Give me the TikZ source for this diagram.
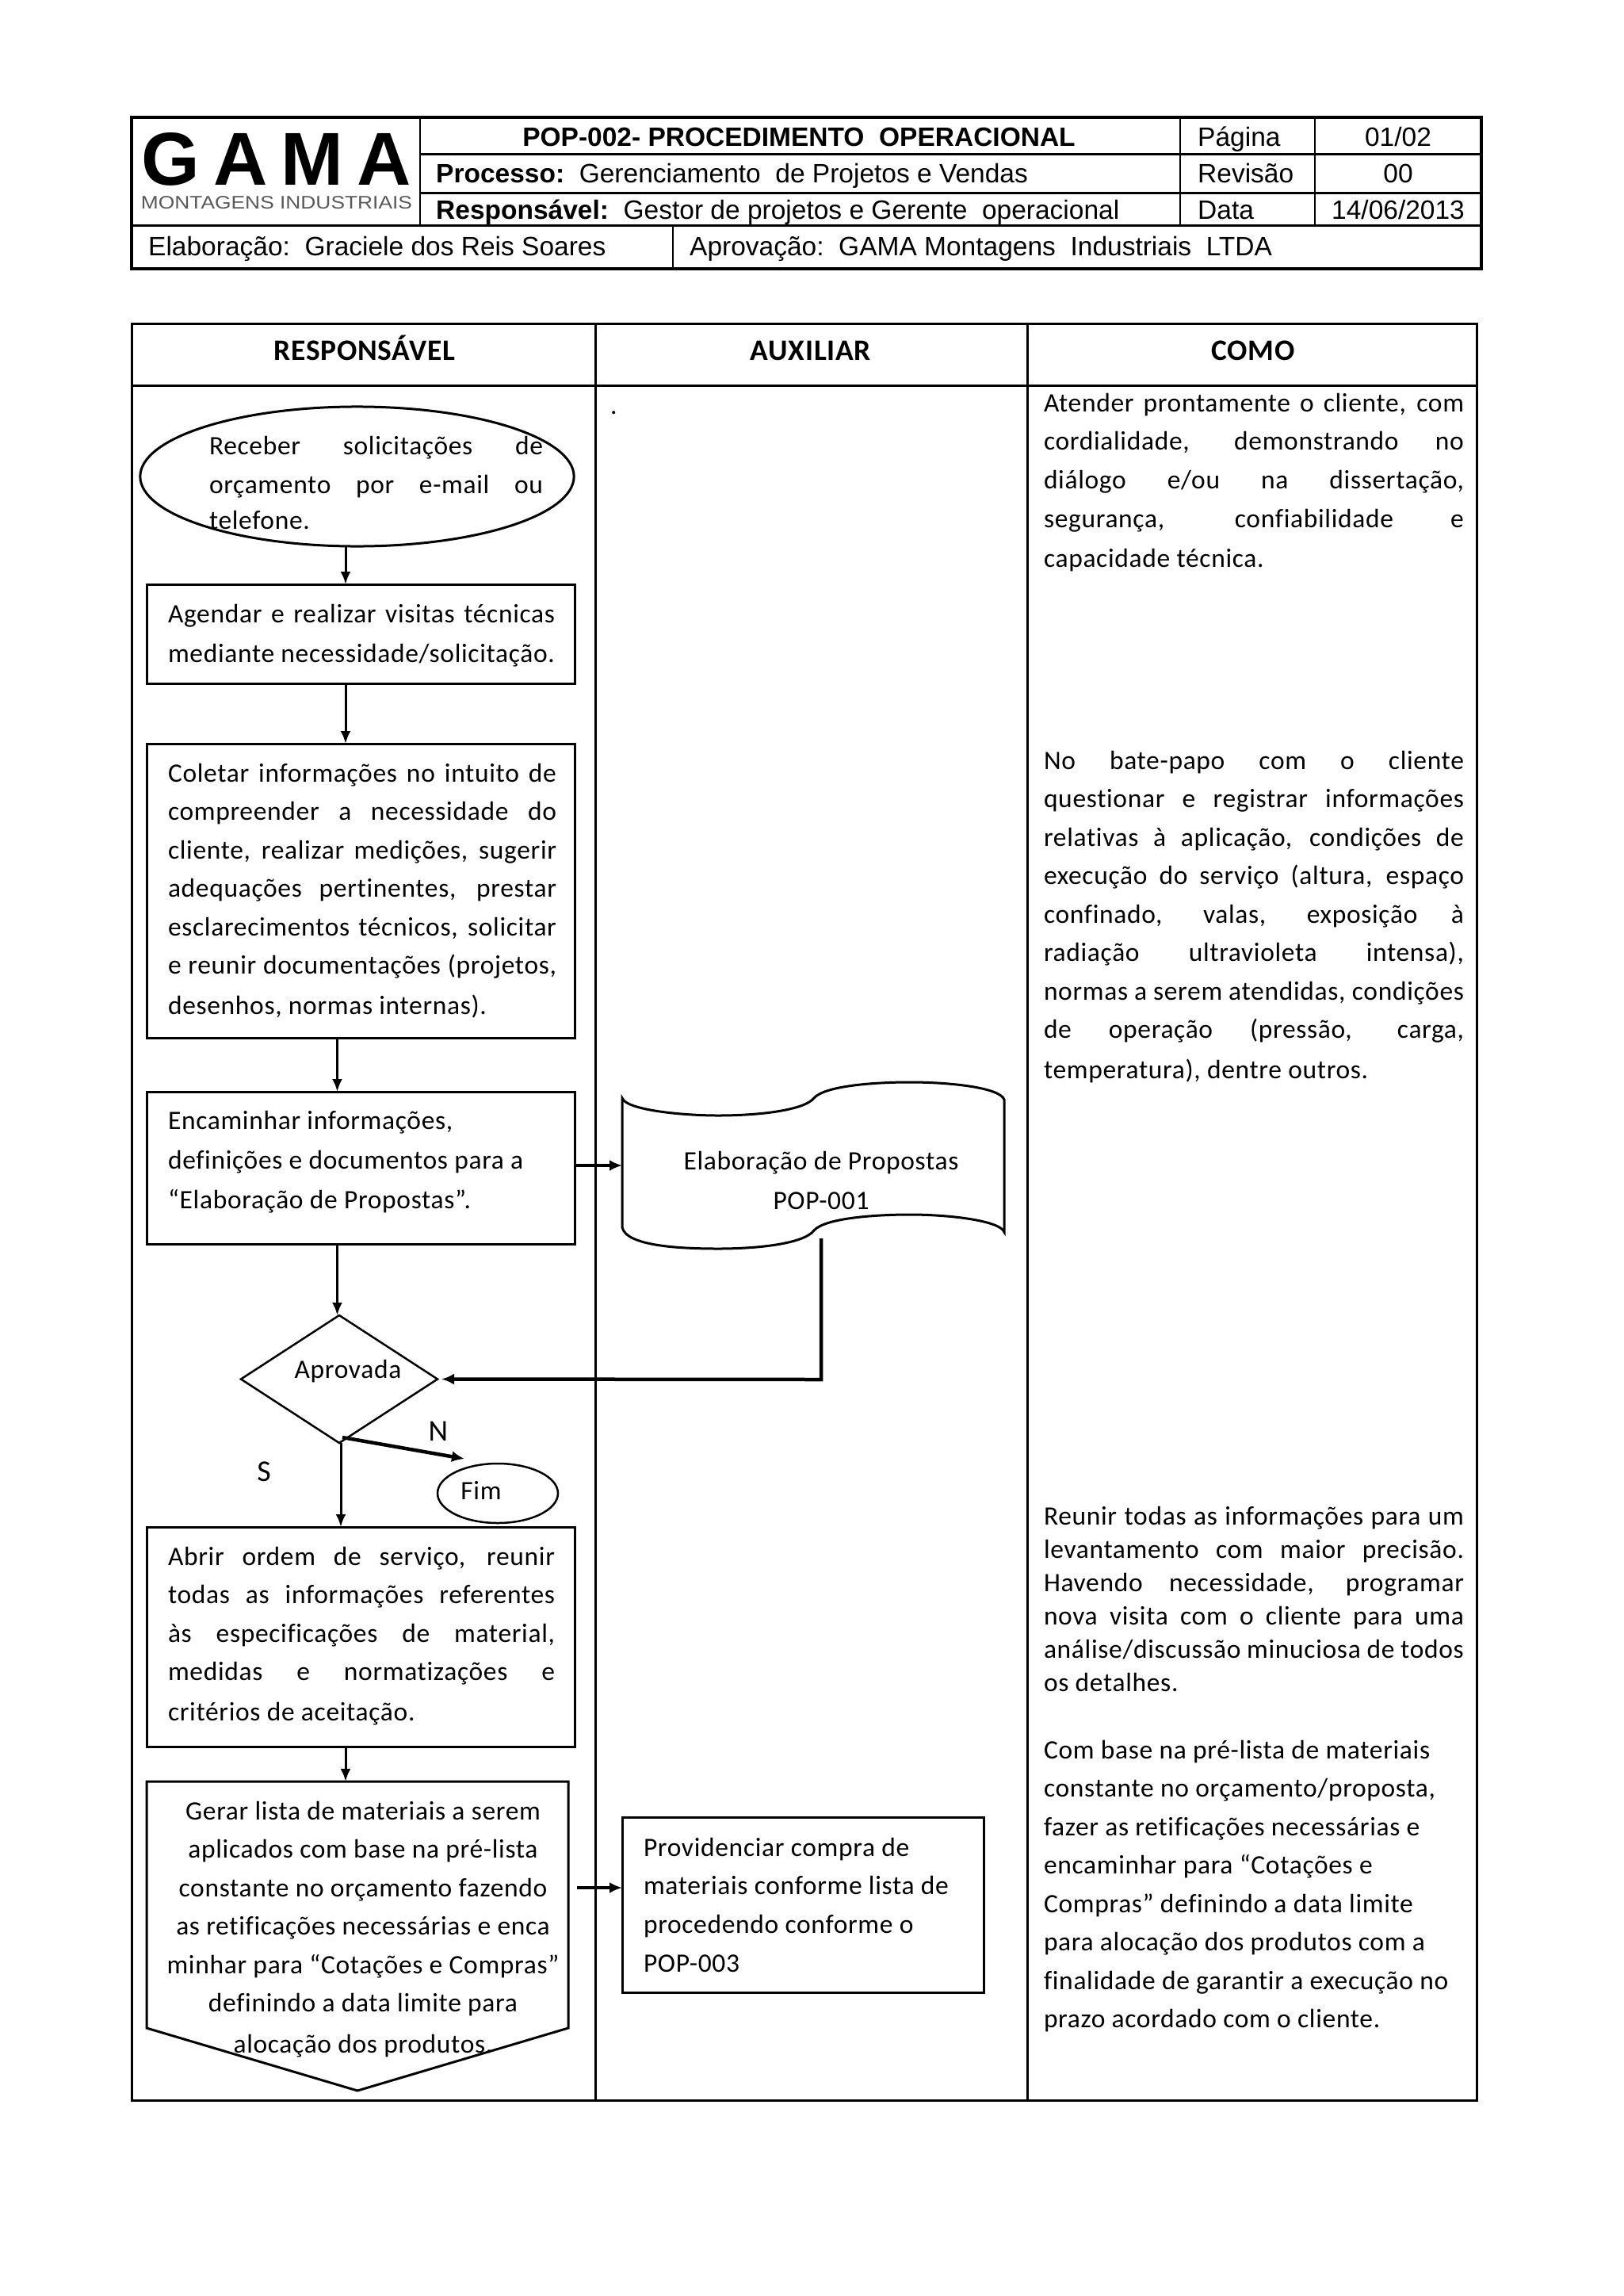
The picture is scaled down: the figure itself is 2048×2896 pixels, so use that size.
\documentclass[tikz,border=0pt]{standalone}
\usepackage{fontspec}
\usepackage{graphicx}
\usetikzlibrary{shapes.geometric,arrows.meta,calc}
\setmainfont[LetterSpace=2,Ligatures=NoCommon]{Carlito}
\newfontfamily\arialf{Liberation Sans}
\newfontfamily\logofont[LetterSpace=18]{Liberation Sans}
\newdimen\lnw \newdimen\lnm
\newcommand\jsl[1]{\moveright\lnm\hbox to\lnw{\spaceskip=.18em plus 1fil\relax #1}}
\newcommand\txl[1]{\moveright\lnm\hbox{#1}}
\newcommand\ctl[1]{\moveright\lnm\hbox to\lnw{\hss #1\hss}}
% width, height, left margin, line width, first baseline, line skip, lines
\newcommand\bx[7]{\hbox to #1pt{\vbox to #2pt{\hsize=#1pt\lnm=#3pt\lnw=#4pt\baselineskip=#6pt\lineskiplimit=-200pt\parindent=0pt
 \vskip\dimexpr#5pt-#6pt\relax\prevdepth=0pt #7\vss}\hss}}
\tikzset{
 frame/.style={line width=3pt,draw=black},
 thin frame/.style={line width=2pt,draw=black},
 flowbox/.style={draw=black,line width=3pt,rectangle,inner sep=0pt,outer sep=0pt,anchor=north west,font=\fontsize{33.5}{40}\selectfont},
 plain/.style={inner sep=0pt,outer sep=0pt,anchor=north west,font=\fontsize{33.5}{40}\selectfont},
 head/.style={font=\arialf\fontsize{33.5}{44}\selectfont,inner sep=0pt,anchor=base west},
 headc/.style={font=\arialf\fontsize{33.5}{44}\selectfont,inner sep=0pt,anchor=base},
 title/.style={font=\bfseries\fontsize{37.5}{44}\selectfont,inner sep=0pt,anchor=base},
 conn/.style={line width=3pt,-{Latex[length=16pt,width=13pt]}},
 heavy/.style={line width=4.5pt,-{Latex[length=16pt,width=14pt]}},
}
\begin{document}
\begin{tikzpicture}[x=1pt,y=-1pt]
\useasboundingbox (0,0) rectangle (2048,2896);
\fill[white] (0,0) rectangle (2048,2896);
% header table
\draw[line width=4pt] (166,148) rectangle (1869,339);
\draw[thin frame] (530,148) -- (530,284);
\draw[thin frame] (1489,148) -- (1489,284);
\draw[thin frame] (1659,148) -- (1659,284);
\draw[line width=3pt] (530,194) -- (1869,194);
\draw[line width=3pt] (530,243) -- (1869,243);
\draw[line width=3pt] (166,284) -- (1869,284);
\draw[thin frame] (849,284) -- (849,339);
% logo
\node[inner sep=0pt] (logoa) at (349,201) {\resizebox{340pt}{66pt}{\logofont\bfseries GAMA}};
\node[inner sep=0pt,text=black!65] (logob) at (349,256) {\resizebox{342pt}{16pt}{\arialf MONTAGENS INDUSTRIAIS}};
% header text
\node[font=\arialf\bfseries\fontsize{33.5}{44}\selectfont,inner sep=0pt,anchor=base] (h1) at (1008,184) {POP-002- PROCEDIMENTO\ \ OPERACIONAL};
\node[head] (h2) at (550,230) {\textbf{Processo:}\ \ Gerenciamento\ \ de Projetos e Vendas};
\node[head] (h3) at (550,276) {\textbf{Responsável:}\ \ Gestor de projetos e Gerente\ \ operacional};
\node[head] (h4) at (1511,184) {Página};
\node[head] (h5) at (1511,230) {Revisão};
\node[head] (h6) at (1511,276) {Data};
\node[headc] (h7) at (1764,184) {01/02};
\node[headc] (h8) at (1764,230) {00};
\node[headc] (h9) at (1764,276) {14/06/2013};
\node[head] (h10) at (187,322) {Elaboração:\ \ Graciele dos Reis Soares};
\node[head] (h11) at (870,322) {Aprovação:\ \ GAMA Montagens\ \ Industriais\ \ LTDA};
% main table
\draw[frame] (166,408) rectangle (1863,2649);
\draw[frame] (166,486) -- (1863,486);
\draw[frame] (751,408) -- (751,2649);
\draw[frame] (1296,408) -- (1296,2649);
\node[title] (t1) at (460,454) {RESPONSÁVEL};
\node[title] (t2) at (1023,454) {AUXILIAR};
\node[title] (t3) at (1581,454) {COMO};
\node[plain,anchor=base west] (dot) at (770,522) {.};
% flow shapes
\node[draw=black,line width=3pt,ellipse,inner sep=0pt,outer sep=0pt,font=\fontsize{33.5}{40}\selectfont] (e1) at (450.5,601) {\bx{387}{124.5}{7}{421}{35}{49}{%
 \jsl{Receber solicitações de}\jsl{orçamento por e-mail ou}\vskip-4pt\txl{telefone.}}};
\node[flowbox] (b1) at (185,737) {\bx{540}{125}{27}{488}{48}{50}{%
 \jsl{Agendar e realizar visitas técnicas}\jsl{mediante necessidade/solicitação.}}};
\node[flowbox] (b2) at (185,938) {\bx{540}{371}{27}{490}{48}{48.5}{%
 \jsl{Coletar informações no intuito de}\jsl{compreender a necessidade do}\jsl{cliente, realizar medições, sugerir}\jsl{adequações pertinentes, prestar}\jsl{esclarecimentos técnicos, solicitar}\jsl{e reunir documentações (projetos,}\vskip2pt\txl{desenhos, normas internas).}}};
\node[flowbox] (b3) at (185,1377) {\bx{540}{192}{27}{490}{47}{50}{%
 \txl{Encaminhar informações,}\txl{definições e documentos\ para a}\txl{“Elaboração de Propostas”.}}};
\draw[line width=3pt] (785,1385) .. controls (790,1400) and (860,1407) .. (906,1407) .. controls (960,1407) and (1015,1400) .. (1027,1385) .. controls (1040,1370) and (1100,1365) .. (1148,1365) .. controls (1200,1365) and (1262,1372) .. (1267,1387) -- (1267,1554) .. controls (1262,1540) and (1200,1532) .. (1148,1532) .. controls (1100,1532) and (1040,1537) .. (1027,1552) .. controls (1015,1568) and (960,1575) .. (906,1575) .. controls (860,1575) and (790,1572) .. (785,1548) -- cycle;
\node[plain,anchor=north west] (doc) at (785,1385) {\bx{482}{169}{0}{502}{90}{50}{%
 \ctl{Elaboração de Propostas}\ctl{POP-001}}};
\node[draw=black,line width=2.5pt,diamond,minimum width=248pt,minimum height=161pt,inner sep=0pt,outer sep=0pt,font=\fontsize{33.5}{40}\selectfont] (d1) at (428,1739.5) {\raisebox{2pt}{\smash{\kern22pt Aprovada}}};
\node[draw=black,line width=2.5pt,ellipse,minimum width=152pt,minimum height=75pt,inner sep=0pt,outer sep=0pt,font=\fontsize{33.5}{40}\selectfont] (f1) at (628,1883.5) {\raisebox{7pt}{\hbox{Fim\kern42pt}}};
\node[plain,font=\fontsize{38}{44}\selectfont,anchor=center] (ln) at (553,1805) {N};
\node[plain,font=\fontsize{38}{44}\selectfont,anchor=center] (ls) at (333,1856) {S};
\node[flowbox] (b4) at (185,1926) {\bx{540}{277}{27}{488}{48}{48.5}{%
 \jsl{Abrir ordem de serviço, reunir}\jsl{todas as informações referentes}\jsl{às especificações de material,}\jsl{medidas e normatizações e}\vskip2pt\txl{critérios de aceitação.}}};
\node[plain] (b5) at (185,2247) {\bx{532}{311}{-3}{552}{48}{48.5}{%
 \ctl{Gerar lista de materiais a serem}\ctl{aplicados com base na pré-lista}\ctl{constante no orçamento fazendo}\ctl{as retificações necessárias e enca}\ctl{minhar para “Cotações e Compras”}\ctl{definindo a data limite para}\vskip3pt\ctl{alocação dos produtos.}}};
\coordinate (b5tip) at (451,2637);
\draw[line width=3pt] (b5.north west) -- (b5.north east) -- (b5.south east) -- (b5tip) -- (b5.south west) -- cycle;
\node[flowbox] (b6) at (785,2292) {\bx{456}{221}{27}{420}{49}{48.7}{%
 \txl{Providenciar compra de}\txl{materiais conforme lista de}\txl{procedendo conforme o}\txl{POP-003}}};
% COMO column
\node[plain] (c1) at (1317,490) {\bx{530}{240}{0}{530}{29}{48.7}{%
 \jsl{Atender prontamente o cliente, com}\jsl{cordialidade, demonstrando no}\jsl{diálogo e/ou na dissertação,}\jsl{segurança, confiabilidade e}\vskip2pt\txl{capacidade técnica.}}};
\node[plain] (c2) at (1317,940) {\bx{530}{440}{0}{530}{30}{48.5}{%
 \jsl{No bate-papo com o cliente}\jsl{questionar e registrar informações}\jsl{relativas à aplicação, condições de}\jsl{execução do serviço (altura, espaço}\jsl{confinado, valas, exposição à}\jsl{radiação ultravioleta intensa),}\jsl{normas a serem atendidas, condições}\jsl{de operação (pressão, carga,}\vskip2pt\txl{temperatura), dentre outros.}}};
\node[plain] (c3) at (1317,1890) {\bx{530}{250}{0}{530}{33}{42}{%
 \jsl{Reunir todas as informações para um}\jsl{levantamento com maior precisão.}\jsl{Havendo necessidade, programar}\jsl{nova visita com o cliente para uma}\jsl{análise/discussão minuciosa de todos}\txl{os detalhes.}}};
\node[plain] (c4) at (1317,2180) {\bx{530}{410}{0}{530}{38}{48.5}{%
 \txl{Com base na pré-lista de materiais}\txl{constante no orçamento/proposta,}\txl{fazer as retificações necessárias e}\txl{encaminhar para “Cotações e}\txl{Compras” definindo a data limite}\txl{para alocação dos produtos com a}\txl{finalidade de garantir a execução no}\txl{prazo acordado com o cliente.}}};
% connectors
\coordinate (x1) at (436,0);
\coordinate (x2) at (425.5,0);
\coordinate (x3) at (430,0);
\coordinate (y1) at (0,1470);
\coordinate (y2) at (1036,1740);
\coordinate (y3) at (0,2381);
\coordinate (docout) at (1036,1562);
\draw[conn] (e1.south -| x1) -- (b1.north -| x1);
\draw[conn] (b1.south -| x1) -- (b2.north -| x1);
\draw[conn] (b2.south -| x2) -- (b3.north -| x2);
\draw[heavy] (b3.east |- y1) -- (doc.west |- y1);
\draw[conn] (b3.south -| x2) -- (d1.north -| x2);
\draw[heavy] (docout) -- (y2) -- ($(d1.east)+(5,0)$);
\draw[conn] (d1.south -| x3) -- (b4.north -| x3);
\coordinate (nstart) at (432,1813);
\coordinate (nend) at (586,1840);
\draw[heavy] (nstart) -- (nend);
\draw[conn] (b4.south -| x1) -- (b5.north -| x1);
\draw[heavy] (b5.east |- y3) ++(11,0) -- (b6.west |- y3);
\end{tikzpicture}
\end{document}
